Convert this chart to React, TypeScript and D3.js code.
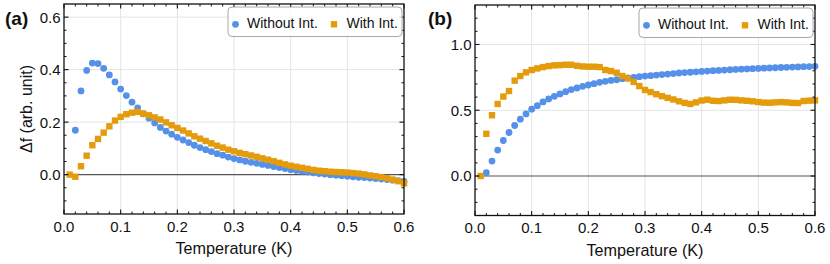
import React from "react";
import * as d3 from "d3";

// ---------- data ----------
const TEMPERATURES = [
  0.01, 0.02, 0.03, 0.04, 0.05, 0.06, 0.07, 0.08, 0.09, 0.1,
  0.11, 0.12, 0.13, 0.14, 0.15, 0.16, 0.17, 0.18, 0.19, 0.2,
  0.21, 0.22, 0.23, 0.24, 0.25, 0.26, 0.27, 0.28, 0.29, 0.3,
  0.31, 0.32, 0.33, 0.34, 0.35, 0.36, 0.37, 0.38, 0.39, 0.4,
  0.41, 0.42, 0.43, 0.44, 0.45, 0.46, 0.47, 0.48, 0.49, 0.5,
  0.51, 0.52, 0.53, 0.54, 0.55, 0.56, 0.57, 0.58, 0.59, 0.6,
];
// "Without Int." series start at T = 0.02
const TEMPERATURES_WITHOUT = TEMPERATURES.slice(1);

const A_WITHOUT = [
  0.169, 0.319, 0.397, 0.425, 0.423, 0.405, 0.38, 0.353, 0.326,
  0.301, 0.276, 0.254, 0.232, 0.215, 0.197, 0.18, 0.166, 0.154, 0.142,
  0.132, 0.122, 0.112, 0.103, 0.095, 0.088, 0.08, 0.074, 0.067, 0.061,
  0.056, 0.051, 0.047, 0.043, 0.039, 0.035, 0.031, 0.027, 0.023, 0.019,
  0.016, 0.013, 0.01, 0.007, 0.004, 0.002, 0.0, -0.002, -0.004, -0.006,
  -0.008, -0.01, -0.011, -0.013, -0.015, -0.017, -0.019, -0.021, -0.023, -0.026,
];
const A_WITH = [
  0.0, -0.008, 0.032, 0.072, 0.112, 0.136, 0.16, 0.184, 0.206, 0.22,
  0.23, 0.236, 0.239, 0.232, 0.226, 0.218, 0.21, 0.199, 0.188, 0.178,
  0.168, 0.157, 0.146, 0.137, 0.128, 0.119, 0.11, 0.103, 0.095, 0.089,
  0.083, 0.078, 0.073, 0.068, 0.062, 0.057, 0.051, 0.045, 0.039, 0.034,
  0.03, 0.026, 0.022, 0.018, 0.015, 0.013, 0.011, 0.01, 0.009, 0.008,
  0.006, 0.004, 0.001, -0.003, -0.006, -0.01, -0.014, -0.019, -0.025, -0.033,
];
const B_WITHOUT = [
  0.025, 0.114, 0.197, 0.27, 0.331, 0.384, 0.432, 0.472, 0.508,
  0.535, 0.563, 0.586, 0.606, 0.624, 0.641, 0.657, 0.669, 0.682, 0.692,
  0.702, 0.712, 0.72, 0.727, 0.732, 0.74, 0.745, 0.75, 0.755, 0.76,
  0.763, 0.767, 0.771, 0.775, 0.779, 0.783, 0.786, 0.789, 0.792, 0.795,
  0.798, 0.801, 0.803, 0.805, 0.808, 0.81, 0.812, 0.814, 0.816, 0.818,
  0.82, 0.822, 0.823, 0.825, 0.826, 0.828, 0.829, 0.831, 0.832, 0.834,
];
const B_WITH = [
  0.0, 0.321, 0.462, 0.548, 0.604, 0.646, 0.725, 0.76, 0.788, 0.806,
  0.818, 0.828, 0.836, 0.841, 0.843, 0.846, 0.846, 0.838, 0.833, 0.831,
  0.831, 0.828, 0.806, 0.798, 0.785, 0.76, 0.742, 0.715, 0.684, 0.654,
  0.638, 0.622, 0.607, 0.594, 0.582, 0.568, 0.556, 0.548, 0.56, 0.574,
  0.58, 0.572, 0.57, 0.575, 0.58, 0.579, 0.575, 0.572, 0.568, 0.562,
  0.558, 0.557, 0.56, 0.562, 0.56, 0.556, 0.555, 0.57, 0.573, 0.575,
];

const X_TICKS = [0, 0.1, 0.2, 0.3, 0.4, 0.5, 0.6];
const Y_TICKS_A = [0, 0.2, 0.4, 0.6];
const Y_TICKS_B = [0, 0.5, 1.0];
const SERIES_NAMES = ["Without Int.", "With Int."];
const X_TITLE = "Temperature (K)";
const Y_TITLE = "Δf (arb. unit)";

// ---------- style ----------
const BLUE = "#5591E8";
const ORANGE = "#E49B0C";
const FONT = "'Liberation Sans', Arial, Helvetica, sans-serif";

type PanelProps = {
  label: string;
  box: [number, number, number, number]; // x0, y0, x1, y1
  yDomain: [number, number];
  yTicks: number[];
  yMinorStep: number;
  without: number[];
  withI: number[];
  yTitle?: string;
  labelX: number;
};

function Panel({ label, box, yDomain, yTicks, yMinorStep, without, withI, yTitle, labelX }: PanelProps) {
  const [x0, y0, x1, y1] = box;
  const x = d3.scaleLinear().domain([0, 0.6]).range([x0, x1]);
  const y = d3.scaleLinear().domain(yDomain).range([y1, y0]);
  const eps = 1e-9;
  const xMinor = d3.range(0, 0.6 + eps, 0.02).filter((v) => !X_TICKS.some((t) => Math.abs(t - v) < 1e-6));
  const yMinor = d3
    .range(Math.ceil(yDomain[0] / yMinorStep + eps) * yMinorStep, yDomain[1] - eps, yMinorStep)
    .filter((v) => !yTicks.some((t) => Math.abs(t - v) < 1e-6) && v > yDomain[0] + eps && v < yDomain[1] - eps);
  const majLen = 4.5;
  const minLen = 2.5;
  const sq = 6.4;
  const legX = x1 - 176;
  const legY = y0 + 3;
  const gridX = X_TICKS.filter((t) => t > 0 && t < 0.6);
  const gridY = yTicks.filter((t) => t !== 0);

  return (
    <g>
      {/* grid */}
      {gridX.map((t) => (
        <line key={"gx" + t} x1={x(t)} x2={x(t)} y1={y0} y2={y1} stroke="#e4e4e4" strokeWidth={1} />
      ))}
      {gridY.map((t) => (
        <line key={"gy" + t} x1={x0} x2={x1} y1={y(t)} y2={y(t)} stroke="#e4e4e4" strokeWidth={1} />
      ))}
      <line x1={x0} x2={x1} y1={y(0)} y2={y(0)} stroke="#555" strokeWidth={1.1} />

      {/* data */}
      {without.map((v, i) => (
        <circle key={"b" + i} cx={x(TEMPERATURES_WITHOUT[i])} cy={y(v)} r={3.4} fill={BLUE} />
      ))}
      {withI.map((v, i) => (
        <rect key={"o" + i} x={x(TEMPERATURES[i]) - sq / 2} y={y(v) - sq / 2} width={sq} height={sq} fill={ORANGE} />
      ))}

      {/* frame */}
      <rect x={x0} y={y0} width={x1 - x0} height={y1 - y0} fill="none" stroke="#111" strokeWidth={1.3} />
      {/* x ticks bottom & top */}
      {X_TICKS.map((t) => (
        <g key={"xt" + t}>
          <line x1={x(t)} x2={x(t)} y1={y1} y2={y1 - majLen} stroke="#111" strokeWidth={1.1} />
          <line x1={x(t)} x2={x(t)} y1={y0} y2={y0 + majLen} stroke="#111" strokeWidth={1.1} />
          <text x={x(t)} y={y1 + 17.5} textAnchor="middle" fontSize={15} fontFamily={FONT} fill="#111">
            {t.toFixed(1)}
          </text>
        </g>
      ))}
      {xMinor.map((t) => (
        <g key={"xm" + t}>
          <line x1={x(t)} x2={x(t)} y1={y1} y2={y1 - minLen} stroke="#111" strokeWidth={1} />
          <line x1={x(t)} x2={x(t)} y1={y0} y2={y0 + minLen} stroke="#111" strokeWidth={1} />
        </g>
      ))}
      {/* y ticks left & right */}
      {yTicks.map((t) => (
        <g key={"yt" + t}>
          <line x1={x0} x2={x0 + majLen} y1={y(t)} y2={y(t)} stroke="#111" strokeWidth={1.1} />
          <line x1={x1} x2={x1 - majLen} y1={y(t)} y2={y(t)} stroke="#111" strokeWidth={1.1} />
          <text x={x0 - 3.5} y={y(t)} dy="0.36em" textAnchor="end" fontSize={15} fontFamily={FONT} fill="#111">
            {t.toFixed(1)}
          </text>
        </g>
      ))}
      {yMinor.map((t) => (
        <g key={"ym" + t}>
          <line x1={x0} x2={x0 + minLen} y1={y(t)} y2={y(t)} stroke="#111" strokeWidth={1} />
          <line x1={x1} x2={x1 - minLen} y1={y(t)} y2={y(t)} stroke="#111" strokeWidth={1} />
        </g>
      ))}

      {/* titles */}
      <text x={(x0 + x1) / 2} y={y1 + 40} textAnchor="middle" fontSize={16.2} fontFamily={FONT} fill="#111">
        {X_TITLE}
      </text>
      {yTitle && (
        <text
          transform={`translate(${x0 - 32},${(y0 + y1) / 2}) rotate(-90)`}
          textAnchor="middle"
          fontSize={16}
          fontFamily={FONT}
          fill="#111"
        >
          {yTitle}
        </text>
      )}
      <text x={labelX} y={25} fontSize={19} fontWeight="bold" fontFamily={FONT} fill="#111">
        {label}
      </text>

      {/* legend */}
      <rect x={legX} y={legY} width={174} height={29.5} rx={4} ry={4} fill="white" fillOpacity={0.85} stroke="#a8a8a8" strokeWidth={1} />
      <circle cx={legX + 7.5} cy={legY + 17.3} r={3.4} fill={BLUE} />
      <text x={legX + 19} y={legY + 20.5} fontSize={14} fontFamily={FONT} fill="#111">
        {SERIES_NAMES[0]}
      </text>
      <rect x={legX + 106 - sq / 2} y={legY + 17.3 - sq / 2} width={sq} height={sq} fill={ORANGE} />
      <text x={legX + 118.5} y={legY + 20.5} fontSize={14} fontFamily={FONT} fill="#111">
        {SERIES_NAMES[1]}
      </text>
    </g>
  );
}

export default function App() {
  return (
    <svg
      width={830}
      height={264}
      viewBox="0 0 830 264"
      style={{ position: "absolute", left: 0, top: 0, background: "white" }}
    >
      <rect x={0} y={0} width={830} height={264} fill="white" />
      <Panel
        label="(a)"
        labelX={5}
        box={[64, 4, 404, 214]}
        yDomain={[-0.15, 0.65]}
        yTicks={Y_TICKS_A}
        yMinorStep={0.05}
        without={A_WITHOUT}
        withI={A_WITH}
        yTitle={Y_TITLE}
      />
      <Panel
        label="(b)"
        labelX={428}
        box={[475, 5, 815, 215.5]}
        yDomain={[-0.3, 1.3]}
        yTicks={Y_TICKS_B}
        yMinorStep={0.1}
        without={B_WITHOUT}
        withI={B_WITH}
      />
    </svg>
  );
}
